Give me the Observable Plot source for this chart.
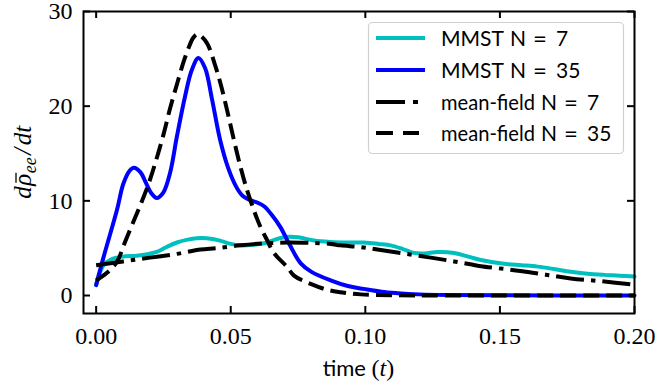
<!DOCTYPE html>
<html>
<head>
<meta charset="utf-8">
<script src="https://cdn.jsdelivr.net/npm/d3@7"></script>
<script src="https://cdn.jsdelivr.net/npm/@observablehq/plot@0.6"></script>
<style>
  html, body { margin: 0; padding: 0; background: #fff; }
  svg { display: block; }
</style>
</head>
<body>
<div id="chart"></div>
<script>
// ---- data ----
const mmst7T = [0, 0.0027, 0.0055, 0.0077, 0.011, 0.0151, 0.019, 0.0225, 0.026, 0.030, 0.034, 0.0374, 0.041, 0.046, 0.050, 0.0536, 0.058, 0.0636, 0.067, 0.071, 0.075, 0.0809, 0.0871, 0.0935, 0.0995, 0.105, 0.1094, 0.114, 0.118, 0.122, 0.1268, 0.133, 0.139, 0.1429, 0.1515, 0.158, 0.164, 0.170, 0.1763, 0.1825, 0.1887, 0.1945, 0.200];
const mmst7V = [1.1, 3.2, 3.8, 4.0, 4.15, 4.2, 4.35, 4.6, 5.1, 5.6, 5.9, 6.05, 6.05, 5.8, 5.45, 5.3, 5.35, 5.6, 5.95, 6.2, 6.15, 5.8, 5.65, 5.6, 5.6, 5.45, 5.3, 4.9, 4.5, 4.45, 4.6, 4.5, 4.05, 3.75, 3.35, 3.2, 3.05, 2.8, 2.5, 2.3, 2.18, 2.1, 2.0];

const mmst35T = [0, 0.0027, 0.0077, 0.0101, 0.0125, 0.014, 0.0165, 0.0185, 0.0205, 0.0225, 0.025, 0.0275, 0.030, 0.033, 0.0355, 0.038, 0.0405, 0.043, 0.046, 0.049, 0.052, 0.0545, 0.057, 0.060, 0.0625, 0.065, 0.0685, 0.072, 0.076, 0.080, 0.0871, 0.0935, 0.0994, 0.106, 0.112, 0.120, 0.130, 0.150, 0.200];
const mmst35V = [1.1, 4.0, 9.0, 11.8, 13.2, 13.5, 13.0, 11.9, 10.8, 10.3, 10.9, 13.0, 16.8, 21.0, 23.8, 25.1, 24.0, 20.8, 16.5, 13.5, 11.5, 10.5, 10.1, 9.8, 9.4, 8.6, 7.2, 5.3, 3.4, 2.5, 1.6, 1.0, 0.7, 0.4, 0.25, 0.12, 0.05, 0.02, 0.0];

const mf7T = [0, 0.010, 0.020, 0.030, 0.0388, 0.0448, 0.0536, 0.062, 0.071, 0.080, 0.0871, 0.0908, 0.0985, 0.1057, 0.115, 0.1243, 0.133, 0.139, 0.1429, 0.1576, 0.167, 0.1763, 0.188, 0.200];
const mf7V = [3.2, 3.6, 4.0, 4.4, 4.85, 5.0, 5.3, 5.5, 5.6, 5.55, 5.45, 5.3, 5.1, 4.8, 4.4, 4.0, 3.6, 3.3, 3.1, 2.6, 2.2, 1.8, 1.5, 1.15];

const mf35T = [0, 0.004, 0.0078, 0.0105, 0.0134, 0.0165, 0.0196, 0.0225, 0.0251, 0.0275, 0.0301, 0.0325, 0.0344, 0.036, 0.0375, 0.039, 0.0413, 0.044, 0.0462, 0.0487, 0.0512, 0.0536, 0.0561, 0.0586, 0.0611, 0.0636, 0.066, 0.071, 0.0735, 0.0797, 0.0859, 0.0908, 0.0983, 0.110, 0.130, 0.200];
const mf35V = [1.6, 2.4, 3.6, 5.5, 7.5, 9.6, 11.9, 14.5, 17.1, 19.8, 22.4, 24.7, 26.2, 27.2, 27.6, 27.4, 26.6, 24.5, 22.4, 19.5, 16.4, 13.6, 11.1, 9.0, 7.2, 5.8, 4.5, 3.0, 2.1, 1.23, 0.6, 0.35, 0.12, 0.03, 0.0, 0.0];

const xTicks = [0, 0.05, 0.10, 0.15, 0.20];
const xTickLabels = ["0.00", "0.05", "0.10", "0.15", "0.20"];
const yTicks = [0, 10, 20, 30];
const yTickLabels = ["0", "10", "20", "30"];
const seriesWords = ["MMST", "MMST", "mean-field", "mean-field"];
const seriesN = ["7", "35", "7", "35"];

// ---- build ----
const toRows = (T, V) => T.map((t, i) => ({t, v: V[i]}));
const W = 658, H = 390;
const mL = 83, mR = 24, mT = 11, mB = 77;
const frameW = W - mL - mR, frameH = H - mT - mB;
const serif = "Liberation Serif";
const sans = "Lato";
const LW = 4;

const chart = Plot.plot({
  width: W, height: H,
  marginLeft: mL, marginRight: mR, marginTop: mT, marginBottom: mB,
  style: {background: "#fff", color: "#000"},
  x: {domain: [-0.0047, 0.2], axis: null},
  y: {domain: [-1.9, 30], axis: null},
  marks: [
    Plot.line(toRows(mmst7T, mmst7V), {x: "t", y: "v", stroke: "#00bfbf", strokeWidth: LW, curve: "catmull-rom"}),
    Plot.line(toRows(mmst35T, mmst35V), {x: "t", y: "v", stroke: "#0000ff", strokeWidth: LW, curve: "catmull-rom"}),
    Plot.line(toRows(mf7T, mf7V), {x: "t", y: "v", stroke: "#000", strokeWidth: LW, strokeDasharray: "28,7,4.4,7", strokeLinecap: "butt", curve: "catmull-rom"}),
    Plot.line(toRows(mf35T, mf35V), {x: "t", y: "v", stroke: "#000", strokeWidth: LW, strokeDasharray: "16,7", strokeLinecap: "butt", curve: "catmull-rom"}),
    // inward ticks on all four sides
    Plot.tickX(xTicks, {x: d => d, insetTop: frameH - 7, stroke: "#000", strokeWidth: 2}),
    Plot.tickX(xTicks, {x: d => d, insetBottom: frameH - 7, stroke: "#000", strokeWidth: 2}),
    Plot.tickY(yTicks, {y: d => d, insetRight: frameW - 7, stroke: "#000", strokeWidth: 2}),
    Plot.tickY(yTicks, {y: d => d, insetLeft: frameW - 7, stroke: "#000", strokeWidth: 2}),
    // tick labels
    Plot.text(xTicks, {x: d => d, frameAnchor: "bottom", lineAnchor: "top", dy: 13, text: (d, i) => xTickLabels[i],
      fontFamily: serif, fontSize: 24, fill: "#000", textAnchor: "middle"}),
    Plot.text(yTicks, {y: d => d, frameAnchor: "left", textAnchor: "end", lineAnchor: "middle", dx: -11, text: (d, i) => yTickLabels[i],
      fontFamily: serif, fontSize: 24, fill: "#000"}),
    Plot.frame({stroke: "#000", strokeWidth: 2})
  ]
});

document.getElementById("chart").appendChild(chart);

const svg = d3.select(chart);

// x label
const xl = svg.append("text")
  .attr("x", mL + frameW / 2).attr("y", 376)
  .attr("text-anchor", "middle")
  .style("font-size", "22px").style("fill", "#000");
xl.append("tspan").attr("font-family", sans).text("time ");
xl.append("tspan").attr("font-family", serif).style("font-size", "24px").text("(");
xl.append("tspan").attr("font-family", serif).attr("font-style", "italic").style("font-size", "24px").text("t");
xl.append("tspan").attr("font-family", serif).style("font-size", "24px").text(")");

// y label (built piecewise so the bar sits over rho)
const yg = svg.append("g").attr("transform", `translate(${31},${mT + frameH / 2}) rotate(-90)`);
const pieces = [
  {t: "d", size: 25, dy: 0},
  {t: "\u03C1", size: 25, dy: 0, bar: true},
  {t: "ee", size: 18, dy: 5},
  {t: "/", size: 25, dy: 0, padL: 2},
  {t: "dt", size: 25, dy: 0, padL: 2}
];
let cx = 0;
const made = [];
pieces.forEach(p => {
  cx += p.padL || 0;
  const el = yg.append("text")
    .attr("x", cx).attr("y", p.dy).attr("text-anchor", "start")
    .attr("font-family", serif).attr("font-style", "italic")
    .style("font-size", p.size + "px").style("fill", "#000").text(p.t);
  const w = el.node().getComputedTextLength();
  made.push({el, x: cx, w, p});
  cx += w + 0.5;
});
const total = cx;
made.forEach(m => {
  m.el.attr("x", m.x - total / 2);
  if (m.p.bar) {
    yg.append("line")
      .attr("x1", m.x - total / 2 + 3).attr("x2", m.x - total / 2 + m.w + 1)
      .attr("y1", -15).attr("y2", -15)
      .attr("stroke", "#000").attr("stroke-width", 1.3);
  }
});

// legend
const lg = svg.append("g");
lg.append("rect")
  .attr("x", 368.5).attr("y", 22.5).attr("width", 255).attr("height", 131)
  .attr("rx", 4).attr("fill", "#fff").attr("fill-opacity", 0.85)
  .attr("stroke", "#d0d0d0").attr("stroke-width", 1.2);
const styles = [
  {stroke: "#00bfbf", dash: null, x2: 425},
  {stroke: "#0000ff", dash: null, x2: 425},
  {stroke: "#000", dash: "29,8,5,30", x2: 418},
  {stroke: "#000", dash: "17,10", x2: 419}
];
const wordWidths = {"MMST": 63, "mean-field": 94};
const rowY = [38, 70, 102, 133];
seriesWords.forEach((word, i) => {
  const l = lg.append("line")
    .attr("x1", 376).attr("x2", styles[i].x2).attr("y1", rowY[i]).attr("y2", rowY[i])
    .attr("stroke", styles[i].stroke).attr("stroke-width", LW);
  if (styles[i].dash) l.attr("stroke-dasharray", styles[i].dash);
  const mk = (x, txt, size) => lg.append("text")
    .attr("x", x).attr("y", rowY[i]).attr("dy", "0.36em")
    .attr("text-anchor", "start")
    .attr("font-family", sans).style("font-size", (size || 21) + "px").style("fill", "#000")
    .text(txt);
  mk(441, word).attr("textLength", wordWidths[word]).attr("lengthAdjust", "spacingAndGlyphs");
  const w1 = wordWidths[word];
  const xN = 441 + w1 + 6;
  const tN = mk(xN, "N");
  const wN = tN.node().getComputedTextLength();
  const xEq = xN + wN + 7;
  const tEq = mk(xEq, "=", 24);
  const wEq = tEq.node().getComputedTextLength();
  mk(xEq + wEq + 9, seriesN[i]);
});
</script>
</body>
</html>
